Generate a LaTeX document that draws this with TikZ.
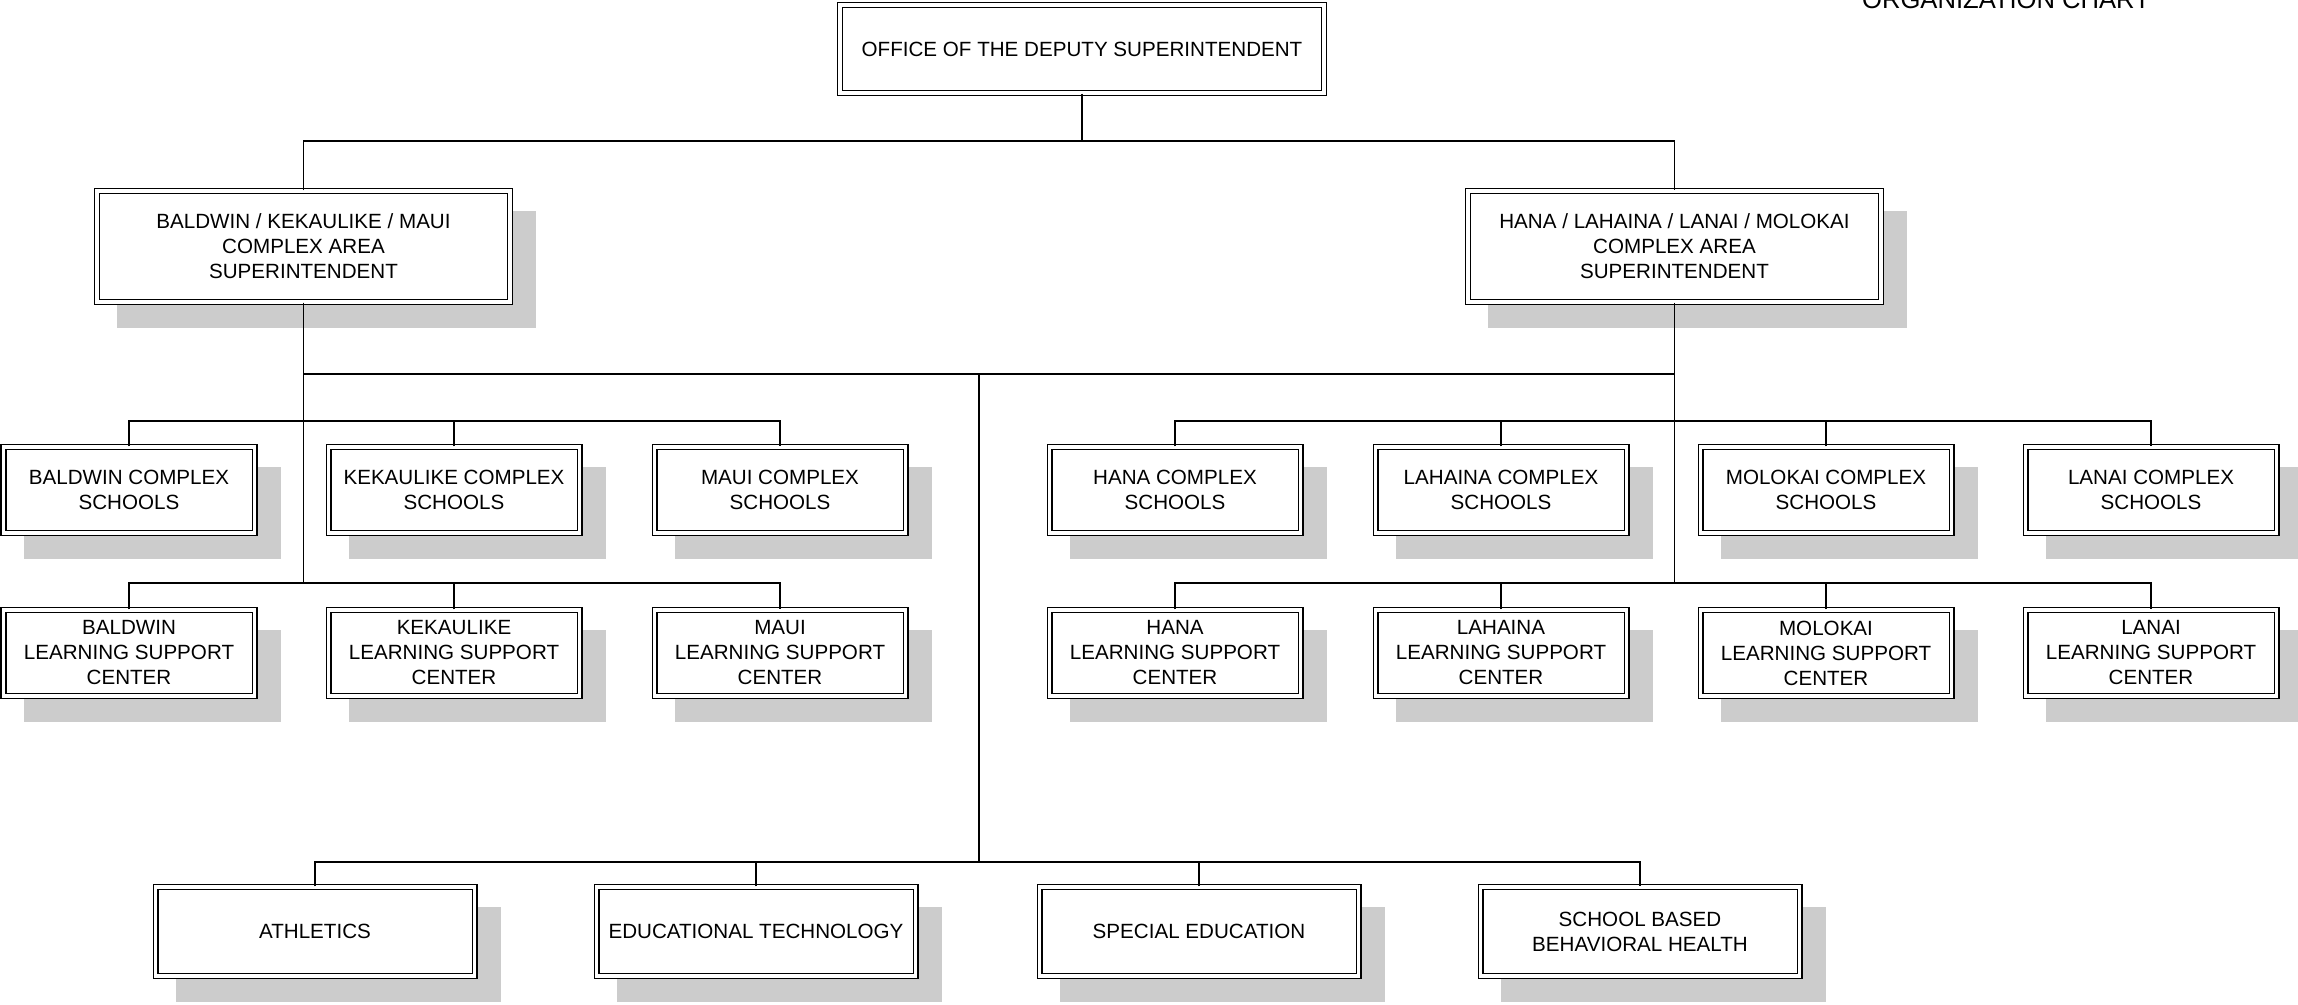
\documentclass[tikz,border=0pt]{standalone}
\usepackage{fontspec}
\setmainfont{Liberation Sans}
\usetikzlibrary{shadows}
\definecolor{shadowgray}{HTML}{CCCCCC}
\begin{document}
\begin{tikzpicture}[x=0.5pt,y=-0.5pt,
  box/.style={draw=black, line width=0.7pt, double=white, double distance=1.6pt,
    fill=white, align=center, inner sep=0pt,
    font=\fontsize{10.3}{12.5}\selectfont},
  shad/.style={general shadow={fill=shadowgray, draw=shadowgray, line width=3pt,
    shadow xshift=11.5pt, shadow yshift=-11.5pt}},
  topbox/.style={box, minimum width=242pt, minimum height=44pt},
  areabox/.style={box, shad, minimum width=206.5pt, minimum height=55.5pt},
  unitbox/.style={box, shad, minimum width=125.5pt, minimum height=43pt},
  botbox/.style={box, shad, minimum width=159.5pt, minimum height=44.5pt},
  conn/.style={draw=black, line width=0.75pt}]
\useasboundingbox (0,0) rectangle (2298,1005);

\node[anchor=base, font=\fontsize{12.8}{15}\selectfont] (title) at (2006,9) {ORGANIZATION CHART};

\node[topbox] (top) at (1082,49) {OFFICE OF THE DEPUTY SUPERINTENDENT};

\node[areabox] (bkm) at (303.5,246.5) {BALDWIN / KEKAULIKE / MAUI\\COMPLEX AREA\\SUPERINTENDENT};
\node[areabox] (hllm) at (1674.5,246.5) {HANA / LAHAINA / LANAI / MOLOKAI\\COMPLEX AREA\\SUPERINTENDENT};

\node[unitbox] (bs) at (129,490) {BALDWIN COMPLEX\\SCHOOLS};
\node[unitbox] (ks) at (454,490) {KEKAULIKE COMPLEX\\SCHOOLS};
\node[unitbox] (ms) at (780,490) {MAUI COMPLEX\\SCHOOLS};
\node[unitbox] (hs) at (1175,490) {HANA COMPLEX\\SCHOOLS};
\node[unitbox] (ls) at (1501,490) {LAHAINA COMPLEX\\SCHOOLS};
\node[unitbox] (mos) at (1826,490) {MOLOKAI COMPLEX\\SCHOOLS};
\node[unitbox] (las) at (2151,490) {LANAI COMPLEX\\SCHOOLS};

\node[unitbox] (bl) at (129,653) {BALDWIN\\LEARNING SUPPORT\\CENTER};
\node[unitbox] (kl) at (454,653) {KEKAULIKE\\LEARNING SUPPORT\\CENTER};
\node[unitbox] (ml) at (780,653) {MAUI\\LEARNING SUPPORT\\CENTER};
\node[unitbox] (hl) at (1175,653) {HANA\\LEARNING SUPPORT\\CENTER};
\node[unitbox] (ll) at (1501,653) {LAHAINA\\LEARNING SUPPORT\\CENTER};
\node[unitbox] (mol) at (1826,653) {MOLOKAI\\LEARNING SUPPORT\\CENTER};
\node[unitbox] (lal) at (2151,653) {LANAI\\LEARNING SUPPORT\\CENTER};

\node[botbox] (ath) at (315,931.5) {ATHLETICS};
\node[botbox] (edt) at (756,931.5) {EDUCATIONAL TECHNOLOGY};
\node[botbox] (sped) at (1199,931.5) {SPECIAL EDUCATION};
\node[botbox] (sbbh) at (1640,931.5) {SCHOOL BASED\\BEHAVIORAL HEALTH};

\coordinate (j0) at (1082,141);
\coordinate (j1) at (979,374);
\coordinate (r1) at (0,421);
\coordinate (r2) at (0,583);
\coordinate (r3) at (0,862);

% top level
\draw[conn] (top.south) -- (j0);
\draw[conn] (bkm.north) |- (j0) -| (hllm.north);

% area connectors
\draw[conn] (bkm.south) |- (j1) -| (hllm.south);
\draw[conn] (bkm.south) -- (bkm.south |- r2);
\draw[conn] (hllm.south) -- (hllm.south |- r2);
\draw[conn] (j1) -- (j1 |- r3);

% row 1
\draw[conn] (bs.north) -- (bs.north |- r1) -- (ms.north |- r1) -- (ms.north);
\draw[conn] (ks.north) -- (ks.north |- r1);
\draw[conn] (hs.north) -- (hs.north |- r1) -- (las.north |- r1) -- (las.north);
\draw[conn] (ls.north) -- (ls.north |- r1);
\draw[conn] (mos.north) -- (mos.north |- r1);

% row 2
\draw[conn] (bl.north) -- (bl.north |- r2) -- (ml.north |- r2) -- (ml.north);
\draw[conn] (kl.north) -- (kl.north |- r2);
\draw[conn] (hl.north) -- (hl.north |- r2) -- (lal.north |- r2) -- (lal.north);
\draw[conn] (ll.north) -- (ll.north |- r2);
\draw[conn] (mol.north) -- (mol.north |- r2);

% bottom row
\draw[conn] (ath.north) -- (ath.north |- r3) -- (sbbh.north |- r3) -- (sbbh.north);
\draw[conn] (edt.north) -- (edt.north |- r3);
\draw[conn] (sped.north) -- (sped.north |- r3);
\end{tikzpicture}
\end{document}
